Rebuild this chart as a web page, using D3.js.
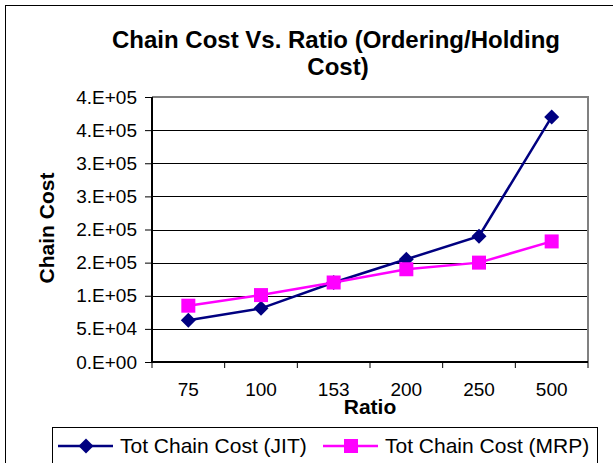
<!DOCTYPE html>
<html>
<head>
<meta charset="utf-8">
<script src="https://cdn.jsdelivr.net/npm/d3@7"></script>
<style>
  body { margin: 0; background: #fff; }
  svg { display: block; font-family: "Liberation Sans", Arial, sans-serif; }
  .axis path, .axis line { stroke: #000; }
  .axis .domain { stroke-width: 2; }
  .axis text { fill: #000; }
</style>
</head>
<body>
<svg id="chart" width="613" height="463"></svg>
<script>
// data
const ratios = ["75", "100", "153", "200", "250", "500"];
const jitCost = [63000, 81000, 120000, 155000, 190000, 370000];
const mrpCost = [85000, 101000, 120000, 140000, 150000, 182000];
const yTicks = [0, 50000, 100000, 150000, 200000, 250000, 300000, 350000, 400000];
const yTickLabels = ["0.E+00", "5.E+04", "1.E+05", "2.E+05", "2.E+05", "3.E+05", "3.E+05", "4.E+05", "4.E+05"];

const series = [
    { name: "Tot Chain Cost (JIT)", values: jitCost, color: "#000080", shape: "diamond" },
    { name: "Tot Chain Cost (MRP)", values: mrpCost, color: "#ff00ff", shape: "square" }
];

const svg = d3.select("#chart"),
    margin = { top: 97, right: 25, bottom: 101, left: 152 },
    width = +svg.attr("width") - margin.left - margin.right,
    height = +svg.attr("height") - margin.top - margin.bottom;

// outer chart frame (runs off the right and bottom edges)
svg.append("rect")
    .attr("x", 5.5).attr("y", 5.5)
    .attr("width", 700).attr("height", 600)
    .attr("fill", "none").attr("stroke", "#000");

svg.append("text")
    .attr("x", 336).attr("y", 48)
    .attr("text-anchor", "middle")
    .style("font-size", "24px").style("font-weight", "bold")
    .text("Chain Cost Vs. Ratio (Ordering/Holding");
svg.append("text")
    .attr("x", 338).attr("y", 75)
    .attr("text-anchor", "middle")
    .style("font-size", "24px").style("font-weight", "bold")
    .text("Cost)");

const g = svg.append("g").attr("transform", `translate(${margin.left},${margin.top})`);

const x = d3.scaleBand().domain(ratios).range([0, width]).padding(0);
const y = d3.scaleLinear().domain([0, 400000]).range([height, 0]);

// gridlines
g.selectAll(".grid")
    .data(yTicks.slice(1))
    .enter().append("line")
    .attr("x1", 0).attr("x2", width)
    .attr("y1", d => Math.round(y(d)) + 0.5).attr("y2", d => Math.round(y(d)) + 0.5)
    .attr("stroke", "#000").attr("stroke-width", 1);

// gray plot border top + right
g.append("path")
    .attr("d", `M0,${y(400000)}H${width}V${height}`)
    .attr("fill", "none").attr("stroke", "#808080").attr("stroke-width", 2);

// y axis
const yAxis = d3.axisLeft(y)
    .tickValues(yTicks)
    .tickFormat((d, i) => yTickLabels[i])
    .tickSize(7).tickPadding(8);
g.append("g").attr("class", "axis")
    .call(yAxis)
    .call(a => a.select(".domain").attr("d", `M0,0V${height}`))
    .call(a => a.selectAll("text").style("font-size", "19px"));

// x axis: labels at centers, ticks at category boundaries
const xAxis = d3.axisBottom(x).tickSize(0).tickPadding(21);
g.append("g").attr("class", "axis")
    .attr("transform", `translate(0,${height})`)
    .call(xAxis)
    .call(a => a.selectAll("text").style("font-size", "19px"))
    .call(a => a.select(".domain").attr("d", `M-1,0H${width}`));
g.selectAll(".xtick")
    .data(ratios.map(r => x(r)).concat([width]))
    .enter().append("line")
    .attr("x1", d => d).attr("x2", d => d)
    .attr("y1", height).attr("y2", height + 6)
    .attr("stroke", "#000");

// axis titles
svg.append("text")
    .attr("x", margin.left + width / 2).attr("y", 414)
    .attr("text-anchor", "middle")
    .style("font-size", "21px").style("font-weight", "bold")
    .text("Ratio");
svg.append("text")
    .attr("transform", "translate(54,228) rotate(-90)")
    .attr("text-anchor", "middle")
    .style("font-size", "21px").style("font-weight", "bold")
    .text("Chain Cost");

const line = d3.line()
    .x((d, i) => x(ratios[i]) + x.bandwidth() / 2)
    .y(d => y(d));

function marker(sel, shape, color, cx, cy) {
    if (shape === "diamond") {
        sel.append("path")
            .attr("d", `M${cx},${cy - 7.5}L${cx + 7.5},${cy}L${cx},${cy + 7.5}L${cx - 7.5},${cy}Z`)
            .attr("fill", color);
    } else {
        sel.append("rect")
            .attr("x", cx - 7).attr("y", cy - 7)
            .attr("width", 14).attr("height", 14)
            .attr("fill", color);
    }
}

series.forEach(s => {
    g.append("path")
        .datum(s.values)
        .attr("d", line)
        .attr("fill", "none")
        .attr("stroke", s.color)
        .attr("stroke-width", 2.5);
    s.values.forEach((v, i) => {
        marker(g, s.shape, s.color, x(ratios[i]) + x.bandwidth() / 2, y(v));
    });
});

// legend
const legend = svg.append("g");
legend.append("rect")
    .attr("x", 52.5).attr("y", 427.5)
    .attr("width", 545).attr("height", 60)
    .attr("fill", "#fff").attr("stroke", "#000");
const legendX = [58, 323];
series.forEach((s, i) => {
    const lx = legendX[i];
    legend.append("line")
        .attr("x1", lx).attr("x2", lx + 55)
        .attr("y1", 446).attr("y2", 446)
        .attr("stroke", s.color).attr("stroke-width", 2.5);
    marker(legend, s.shape, s.color, lx + 28, 446);
    legend.append("text")
        .attr("x", lx + 62).attr("y", 453)
        .style("font-size", "21px")
        .text(s.name);
});
</script>
</body>
</html>
